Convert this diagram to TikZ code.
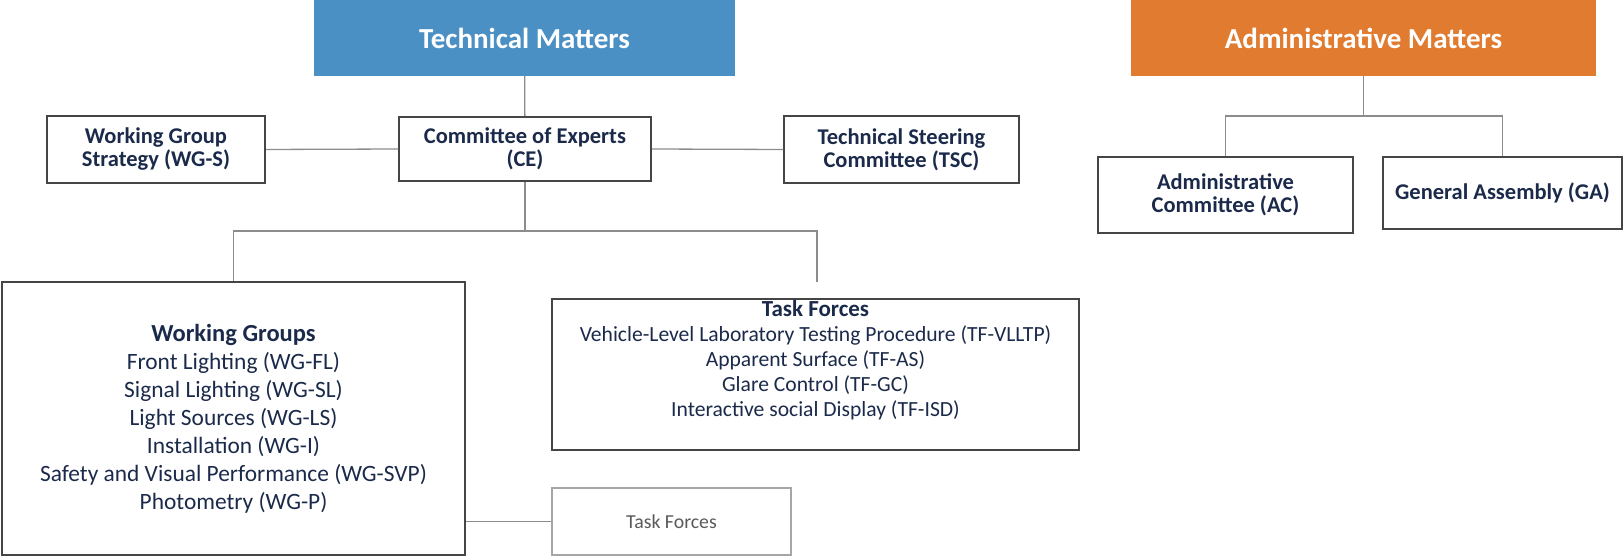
\documentclass[tikz,border=0pt]{standalone}
\usepackage{fontspec}
\setmainfont{Carlito}
\usetikzlibrary{positioning,calc}
\definecolor{Navy}{HTML}{1B2A4A}
\definecolor{TechBlue}{HTML}{4A90C4}
\definecolor{AdminOrange}{HTML}{E07B30}
\definecolor{LineGray}{HTML}{8C8C8C}
\definecolor{BoxGray}{HTML}{454545}
\definecolor{SoftGray}{HTML}{A6A6A6}

\begin{document}
\begin{tikzpicture}[x=1pt,y=1pt,
  head/.style={fill=#1,text=white,minimum height=76pt,inner sep=0pt,font=\fontsize{29}{32}\selectfont\bfseries},
  box/.style={draw=BoxGray,line width=1.5pt,text=Navy,align=center,inner sep=0pt,font=\fontsize{22.5}{23}\selectfont\bfseries},
  listbox/.style={draw=BoxGray,line width=1.5pt,inner sep=0pt},
  link/.style={draw=LineGray,line width=1.3pt}]
\useasboundingbox (0,0) rectangle (1624,557);
% top headers
\node[head=TechBlue,minimum width=421pt](tech) at (524.5,519) {Technical Matters};
\node[head=AdminOrange,minimum width=465pt](admin) at (1363.5,519) {Administrative Matters};
% technical side
\node[box,minimum width=218pt,minimum height=67pt](wgs) at (156,407.5) {Working Group\\Strategy (WG-S)};
\node[box,minimum width=252pt,minimum height=64pt](ce) at (525,408) {Committee of Experts\\(CE)};
\node[box,minimum width=235pt,minimum height=67pt](tsc) at (901.5,407.5) {Technical Steering\\Committee (TSC)};
\node[listbox,minimum width=463pt,minimum height=273pt,text=Navy,align=center,font=\fontsize{23.4}{28}\selectfont](wg) at (233.5,138.5)
  {\textbf{\fontsize{24.5}{28}\selectfont Working Groups}\\Front Lighting (WG-FL)\\Signal Lighting (WG-SL)\\Light Sources (WG-LS)\\Installation (WG-I)\\Safety and Visual Performance (WG-SVP)\\Photometry (WG-P)};
\node[listbox,minimum width=527pt,minimum height=151pt](tf) at (815.5,182.5) {};
\node[below=2pt of tf.north,text=Navy,align=center,inner sep=0pt,font=\fontsize{21.6}{25}\selectfont](tflist)
  {\textbf{\fontsize{23}{25}\selectfont Task Forces}\\Vehicle-Level Laboratory Testing Procedure (TF-VLLTP)\\Apparent Surface (TF-AS)\\Glare Control (TF-GC)\\Interactive social Display (TF-ISD)};
\node[draw=SoftGray,line width=1.5pt,minimum width=239pt,minimum height=67pt,text=black!65,font=\fontsize{19.8}{22}\selectfont](tfs) at (671.5,35.5) {Task Forces};
% administrative side
\node[box,minimum width=255pt,minimum height=76pt](ac) at (1225.5,362) {Administrative\\Committee (AC)};
\node[box,minimum width=239pt,minimum height=72pt](ga) at (1502.5,364) {General Assembly (GA)};
% connectors
\coordinate (split) at (525,326);
\coordinate (tfend) at (817,275);
\coordinate (asplit) at (1363.5,441);
\draw[link](tech)--(ce);
\foreach \p/\q in {wgs.east/ce.west,ce.east/tsc.west,ce.south/split}{\draw[link](\p)--(\q);}
\draw[link](wg.north)|-(split)-|(tfend);
\draw[link](tfs.west)--(tfs.west-|wg.east);
\draw[link](admin.south)--(asplit);
\draw[link](ac.north)|-(asplit)-|(ga.north);
\end{tikzpicture}
\end{document}
